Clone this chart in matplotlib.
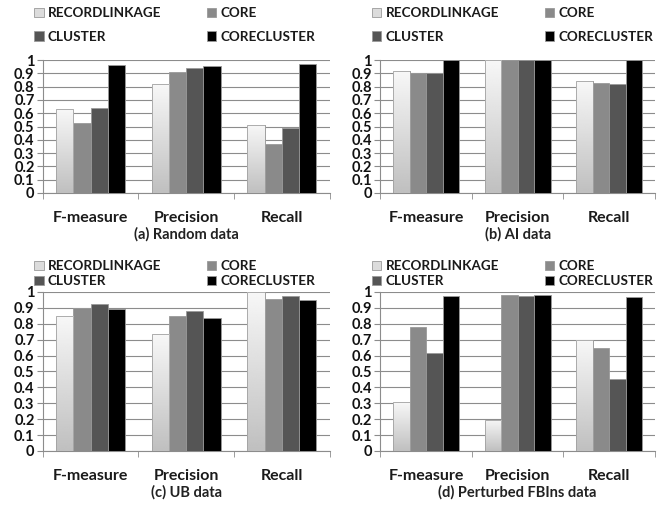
import numpy as np
import matplotlib
matplotlib.use("Agg")
import matplotlib.pyplot as plt
from matplotlib.ticker import MultipleLocator, FuncFormatter

plt.rcParams.update({
    "font.family": ["Lato", "DejaVu Sans"],
    "font.weight": "bold",
})

METRICS = ["F-measure", "Precision", "Recall"]
METHODS = ["RECORDLINKAGE", "CORE", "CLUSTER", "CORECLUSTER"]
COLORS = ["#dcdcdc", "#8a8a8a", "#555555", "#000000"]

random_data = [[0.63, 0.82, 0.515],
               [0.53, 0.91, 0.372],
               [0.64, 0.937, 0.487],
               [0.96, 0.957, 0.967]]
ai_data = [[0.915, 1.0, 0.839],
           [0.905, 1.0, 0.827],
           [0.905, 1.0, 0.817],
           [1.0, 1.0, 1.0]]
ub_data = [[0.847, 0.734, 1.0],
           [0.901, 0.847, 0.956],
           [0.925, 0.878, 0.973],
           [0.891, 0.839, 0.952]]
fbins_data = [[0.306, 0.197, 0.696],
              [0.78, 0.983, 0.65],
              [0.618, 0.975, 0.451],
              [0.977, 0.983, 0.971]]

PANELS = [
    ("(a) Random data", random_data, [0.065, 0.618, 0.435, 0.263]),
    ("(b) AI data", ai_data, [0.577, 0.618, 0.417, 0.263]),
    ("(c) UB data", ub_data, [0.065, 0.107, 0.435, 0.315]),
    ("(d) Perturbed FBIns data", fbins_data, [0.577, 0.107, 0.417, 0.315]),
]

grad = np.linspace(0.97, 0.75, 256).reshape(-1, 1)


def draw_panel(fig, title, data, rect, top_row):
    ax = fig.add_axes(rect)
    x = np.arange(len(METRICS))
    w = 0.18
    handles = []
    for i, (name, vals) in enumerate(zip(METHODS, data)):
        bars = ax.bar(x + (i - 1.5) * w, vals, w, color=COLORS[i],
                      edgecolor="#9a9a9a", linewidth=0.6, label=name, zorder=3)
        handles.append(bars)
        if i == 0:
            # light gradient fill of the first series
            for b in bars:
                im = ax.imshow(grad, cmap="gray", vmin=0, vmax=1, aspect="auto",
                               extent=[b.get_x(), b.get_x() + b.get_width(),
                                       0, b.get_height()],
                               origin="upper", zorder=3.5)
                im.set_clip_path(b)
                ax.add_patch(plt.Rectangle((b.get_x(), 0), b.get_width(), b.get_height(),
                                           fill=False, edgecolor="#a0a0a0",
                                           linewidth=0.6, zorder=4))
    ax.set_xlim(-0.5, 2.5)
    ax.set_ylim(0, 1)
    ax.yaxis.set_major_locator(MultipleLocator(0.1))
    ax.yaxis.set_major_formatter(FuncFormatter(lambda v, p: f"{v:.1f}".rstrip("0").rstrip(".") if v else "0"))
    ax.grid(axis="y", color="#8c8c8c", linewidth=0.8, zorder=0)
    ax.set_axisbelow(True)
    for s in ["top", "right"]:
        ax.spines[s].set_visible(False)
    for s in ["left", "bottom"]:
        ax.spines[s].set_color("#8c8c8c")
    ax.set_xticks(x)
    ax.set_xticklabels(METRICS, fontsize=11.5, fontweight="bold", color="#1a1a1a")
    ax.set_xticks([-0.5, 0.5, 1.5, 2.5], minor=True)
    ax.tick_params(axis="x", which="major", length=0, pad=13)
    ax.tick_params(axis="x", which="minor", length=4, color="#8c8c8c")
    ax.tick_params(axis="y", length=4, color="#8c8c8c", labelsize=10.5, pad=2,
                   labelcolor="#111111")
    for t in ax.get_yticklabels():
        t.set_fontweight("bold")
    ax.set_xlabel(title, fontsize=10.5, fontweight="bold", labelpad=1.5, color="#222222")
    order = [0, 2, 1, 3]
    anchor_y = 1.13 if top_row else 1.03
    leg = ax.legend([handles[k] for k in order], [METHODS[k] for k in order],
                    ncol=2, loc="lower left", bbox_to_anchor=(-0.03, anchor_y),
                    frameon=False, fontsize=9.7, handlelength=0.7, handleheight=0.7,
                    handletextpad=0.3, columnspacing=3.4,
                    labelspacing=0.85 if top_row else 0.2, borderaxespad=0,
                    borderpad=0)
    for t in leg.get_texts():
        t.set_fontweight("bold")
        t.set_color("#1a1a1a")
    return ax


fig = plt.figure(figsize=(6.59, 5.05), dpi=100)
for idx, (title, data, rect) in enumerate(PANELS):
    draw_panel(fig, title, data, rect, idx < 2)

fig.savefig("out.png", dpi=100)
